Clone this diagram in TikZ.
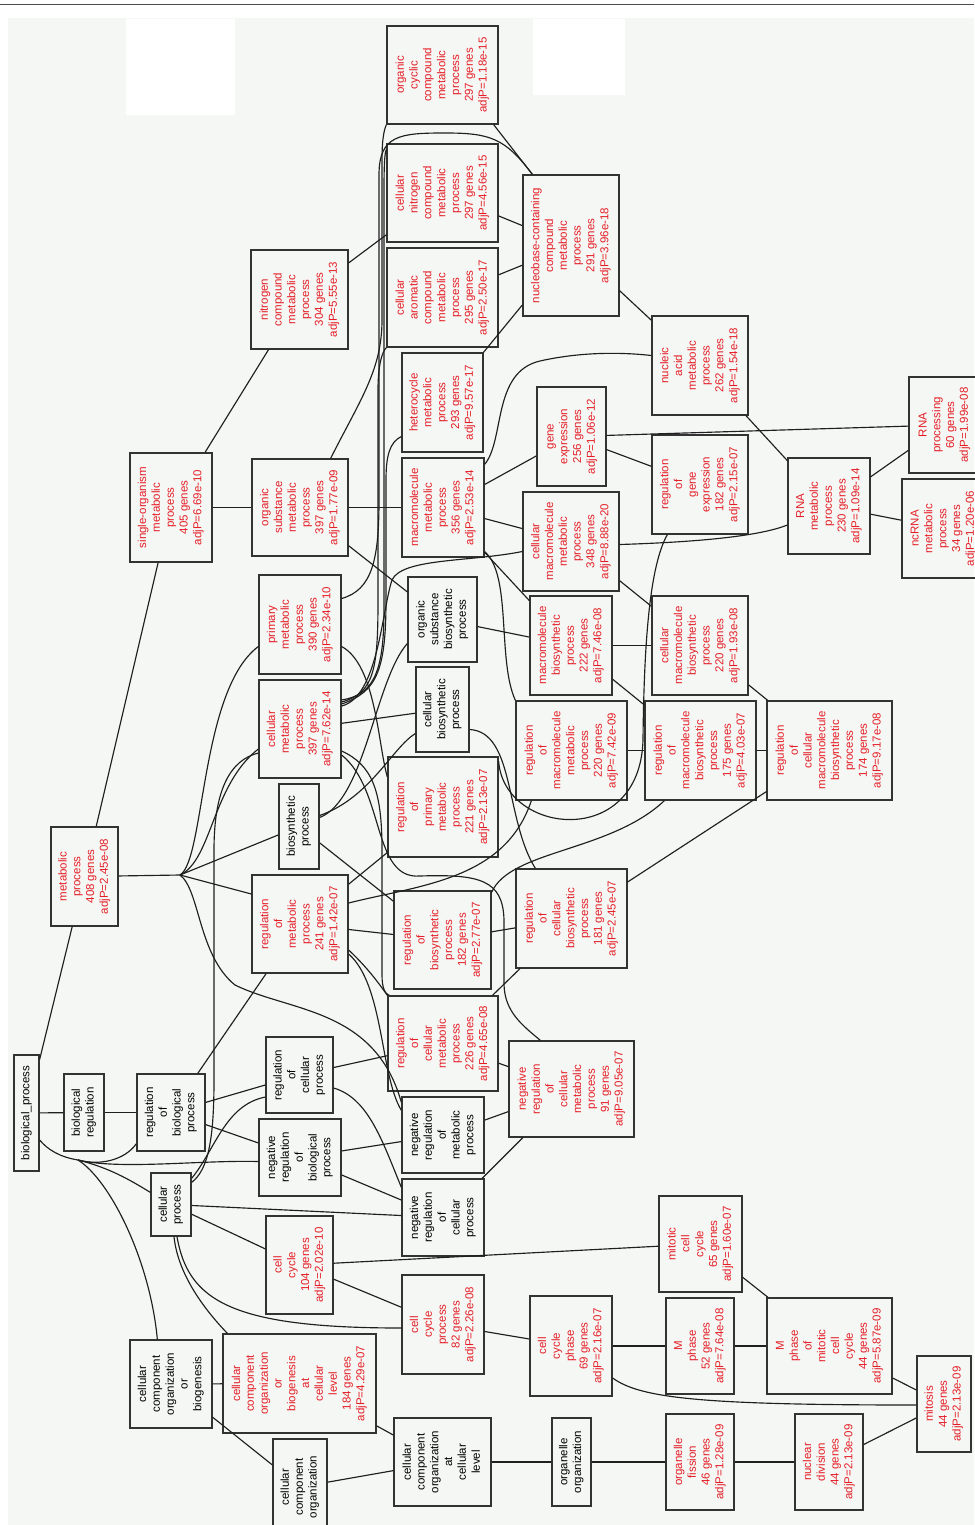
\documentclass[tikz,border=0pt]{standalone}
\usepackage{fontspec}
\setmainfont{Liberation Sans}
\usepackage{graphicx}
\definecolor{sigred}{RGB}{228,30,38}
\definecolor{canvasgray}{RGB}{245,247,245}
\newcommand{\golab}[1]{\rotatebox{90}{\fontsize{11.5}{13.8}\selectfont\begin{tabular}{@{}c@{}}#1\end{tabular}}}

\begin{document}
\begin{tikzpicture}[x=1pt, y=-1pt,
  term/.style={draw=black!80, line width=1.3pt, inner sep=0pt, text=sigred},
  bterm/.style={term, text=black},
  sz/.style 2 args={minimum width=#1pt, minimum height=#2pt},
  lk/.style={draw=black!88, line width=1.15pt}
]
  \useasboundingbox (0,0) rectangle (974,1525);
  \fill[white] (0,0) rectangle (974,1525);
  \fill[canvasgray] (8,18) rectangle (974,1525);
  \fill[white] (126,19) rectangle (235,115);
  \fill[white] (533,19) rectangle (625,95);
  \draw[line width=1.5pt, black!70] (0,4.5) -- (974,4.5);

  \node[term, sz={111}{98}] (occ) at (442.5,75) {\golab{organic\\cyclic\\compound\\metabolic\\process\\297 genes\\adjP=1.18e-15}};
  \node[term, sz={111}{98}] (cnc) at (442.5,193) {\golab{cellular\\nitrogen\\compound\\metabolic\\process\\297 genes\\adjP=4.56e-15}};
  \node[term, sz={111}{99}] (cac) at (442.5,297.5) {\golab{cellular\\aromatic\\compound\\metabolic\\process\\295 genes\\adjP=2.50e-17}};
  \node[term, sz={97}{99}] (ncm) at (299.5,299.5) {\golab{nitrogen\\compound\\metabolic\\process\\304 genes\\adjP=5.55e-13}};
  \node[term, sz={81}{99}] (het) at (442.5,402.5) {\golab{heterocycle\\metabolic\\process\\293 genes\\adjP=9.57e-17}};
  \node[term, sz={96}{141}] (nuc) at (571,245.5) {\golab{nucleobase-containing\\compound\\metabolic\\process\\291 genes\\adjP=3.96e-18}};
  \node[term, sz={96}{99}] (nam) at (700,365.5) {\golab{nucleic\\acid\\metabolic\\process\\262 genes\\adjP=1.54e-18}};
  \node[term, sz={82}{109}] (som) at (171,507.5) {\golab{single-organism\\metabolic\\process\\405 genes\\adjP=6.69e-10}};
  \node[term, sz={96}{97}] (osm) at (300,507.5) {\golab{organic\\substance\\metabolic\\process\\397 genes\\adjP=1.77e-09}};
  \node[term, sz={82}{99}] (mmp) at (443,507.5) {\golab{macromolecule\\metabolic\\process\\356 genes\\adjP=2.53e-14}};
  \node[term, sz={82}{99}] (pmp) at (300,624.5) {\golab{primary\\metabolic\\process\\390 genes\\adjP=2.34e-10}};
  \node[term, sz={82}{98}] (cmp) at (300,729) {\golab{cellular\\metabolic\\process\\397 genes\\adjP=7.62e-14}};
  \node[bterm, sz={69}{85}] (osb) at (442.5,619.5) {\golab{organic\\substance\\biosynthetic\\process}};
  \node[bterm, sz={53}{85}] (cbp) at (442.5,709.5) {\golab{cellular\\biosynthetic\\process}};
  \node[term, sz={69}{99}] (gex) at (571.5,436.5) {\golab{gene\\expression\\256 genes\\adjP=1.06e-12}};
  \node[term, sz={96}{99}] (rge) at (700,484.5) {\golab{regulation\\of\\gene\\expression\\182 genes\\adjP=2.15e-07}};
  \node[term, sz={82}{96}] (rmp) at (829,506) {\golab{RNA\\metabolic\\process\\230 genes\\adjP=1.09e-14}};
  \node[term, sz={71}{96}] (rnp) at (944.5,425) {\golab{RNA\\processing\\60 genes\\adjP=1.99e-08}};
  \node[term, sz={83}{99}] (ncr) at (943.5,528.5) {\golab{ncRNA\\metabolic\\process\\34 genes\\adjP=1.20e-06}};
  \node[term, sz={96}{99}] (cmm) at (571,541.5) {\golab{cellular\\macromolecule\\metabolic\\process\\348 genes\\adjP=8.88e-20}};
  \node[term, sz={82}{99}] (mbp) at (571,645.5) {\golab{macromolecule\\biosynthetic\\process\\222 genes\\adjP=7.46e-08}};
  \node[term, sz={96}{99}] (cmb) at (700,645.5) {\golab{cellular\\macromolecule\\biosynthetic\\process\\220 genes\\adjP=1.93e-08}};
  \node[term, sz={111}{99}] (rmm) at (571.5,750.5) {\golab{regulation\\of\\macromolecule\\metabolic\\process\\220 genes\\adjP=7.42e-09}};
  \node[term, sz={111}{99}] (rmb) at (700.5,750.5) {\golab{regulation\\of\\macromolecule\\biosynthetic\\process\\175 genes\\adjP=4.03e-07}};
  \node[term, sz={125}{99}] (rcmb) at (829.5,750.5) {\golab{regulation\\of\\cellular\\macromolecule\\biosynthetic\\process\\174 genes\\adjP=9.17e-08}};
  \node[term, sz={67}{99}] (met) at (84.5,876.5) {\golab{metabolic\\process\\408 genes\\adjP=2.45e-08}};
  \node[bterm, sz={40}{85}] (bsp) at (299,826.5) {\golab{biosynthetic\\process}};
  \node[term, sz={96}{98}] (rmet) at (300,924) {\golab{regulation\\of\\metabolic\\process\\241 genes\\adjP=1.42e-07}};
  \node[term, sz={110}{100}] (rpm) at (443,807) {\golab{regulation\\of\\primary\\metabolic\\process\\221 genes\\adjP=2.13e-07}};
  \node[term, sz={97}{98}] (rbp) at (442.5,940) {\golab{regulation\\of\\biosynthetic\\process\\182 genes\\adjP=2.77e-07}};
  \node[term, sz={111}{99}] (rcb) at (571.5,918.5) {\golab{regulation\\of\\cellular\\biosynthetic\\process\\181 genes\\adjP=2.45e-07}};
  \node[term, sz={110}{95}] (rcm) at (443,1043.5) {\golab{regulation\\of\\cellular\\metabolic\\process\\226 genes\\adjP=4.65e-08}};
  \node[term, sz={125}{96}] (nrcm) at (571.5,1089) {\golab{negative\\regulation\\of\\cellular\\metabolic\\process\\91 genes\\adjP=9.05e-07}};
  \node[bterm, sz={25}{116}] (bp) at (26.5,1113) {\golab{biological\_process}};
  \node[bterm, sz={40}{77}] (breg) at (84,1112.5) {\golab{biological\\regulation}};
  \node[bterm, sz={68}{77}] (rbio) at (171,1112.5) {\golab{regulation\\of\\biological\\process}};
  \node[bterm, sz={67}{76}] (rcp) at (299.5,1075) {\golab{regulation\\of\\cellular\\process}};
  \node[bterm, sz={82}{77}] (nrbp) at (300,1157.5) {\golab{negative\\regulation\\of\\biological\\process}};
  \node[bterm, sz={82}{76}] (nrmp) at (443,1135) {\golab{negative\\regulation\\of\\metabolic\\process}};
  \node[bterm, sz={82}{77}] (nrcp) at (443,1217.5) {\golab{negative\\regulation\\of\\cellular\\process}};
  \node[bterm, sz={40}{63}] (cpr) at (171,1204.5) {\golab{cellular\\process}};
  \node[term, sz={67}{98}] (ccy) at (299.5,1265) {\golab{cell\\cycle\\104 genes\\adjP=2.02e-10}};
  \node[term, sz={82}{99}] (ccp) at (443,1324.5) {\golab{cell\\cycle\\process\\82 genes\\adjP=2.26e-08}};
  \node[bterm, sz={82}{88}] (ccob) at (171,1384) {\golab{cellular\\component\\organization\\or\\biogenesis}};
  \node[term, sz={153}{99}] (ccobl) at (299.5,1383.5) {\golab{cellular\\component\\organization\\or\\biogenesis\\at\\cellular\\level\\184 genes\\adjP=4.29e-07}};
  \node[bterm, sz={54}{96}] (cco) at (300,1487) {\golab{cellular\\component\\organization}};
  \node[bterm, sz={97}{88}] (ccol) at (442.5,1462) {\golab{cellular\\component\\organization\\at\\cellular\\level}};
  \node[bterm, sz={39}{88}] (ogo) at (571.5,1462) {\golab{organelle\\organization}};
  \node[term, sz={68}{96}] (ofi) at (700,1462) {\golab{organelle\\fission\\46 genes\\adjP=1.28e-09}};
  \node[term, sz={68}{96}] (ndv) at (829,1462) {\golab{nuclear\\division\\44 genes\\adjP=2.13e-09}};
  \node[term, sz={54}{96}] (mit) at (944,1404) {\golab{mitosis\\44 genes\\adjP=2.13e-09}};
  \node[term, sz={82}{100}] (ccph) at (571,1346) {\golab{cell\\cycle\\phase\\69 genes\\adjP=2.16e-07}};
  \node[term, sz={68}{96}] (mph) at (700,1346) {\golab{M\\phase\\52 genes\\adjP=7.64e-08}};
  \node[term, sz={125}{96}] (mpmc) at (829.5,1346) {\golab{M\\phase\\of\\mitotic\\cell\\cycle\\44 genes\\adjP=5.87e-09}};
  \node[term, sz={83}{96}] (mcc) at (700.5,1244) {\golab{mitotic\\cell\\cycle\\65 genes\\adjP=1.60e-07}};

  \coordinate (fan) at (180,875);
  \coordinate (bpfan) at (78,1160);

  \draw[lk] (bp) -- (breg);
  \draw[lk] (breg) -- (rbio);
  \draw[lk] (bp) -- (met);
  \draw[lk] (met) -- (som);
  \draw[lk] (som) -- (ncm);
  \draw[lk] (som) -- (osm);
  \draw[lk] (osm) -- (mmp);
  \draw[lk] (osm) -- (osb);
  \draw[lk] (ncm) -- (cnc);
  \draw[lk] ([xshift=-5pt]occ.south east) -- ([xshift=10pt]nuc.north west);
  \draw[lk] (cnc) -- (nuc);
  \draw[lk] (cac) -- (nuc);
  \draw[lk] (het) -- (nuc);
  \draw[lk] (nuc) -- (nam);
  \draw[lk] (nam) -- (rmp);
  \draw[lk] (mmp) -- (gex);
  \draw[lk] (mmp) -- (cmm);
  \draw[lk] (mmp) -- (mbp);
  \draw[lk] (gex) -- (rge);
  \draw[lk] (gex) -- (rnp);
  \draw[lk] (rmp) -- (rnp);
  \draw[lk] (rmp) -- (ncr);
  \draw[lk] (cmm) -- (cmb);
  \draw[lk] (osb) -- (mbp);
  \draw[lk] (mbp) -- (cmb);
  \draw[lk] (mbp) -- (rmb);
  \draw[lk] (cmb) -- (rcmb);
  \draw[lk] (rmm) -- (rmb);
  \draw[lk] (rmb) -- (rcmb);
  \draw[lk] (rcb) -- (rcmb);
  \draw[lk] (cmp) -- (cbp);
  \draw[lk] (bsp) -- (rbp);
  \draw[lk] (rmet) -- (rpm);
  \draw[lk] (rmet) -- (rbp);
  \draw[lk] (rbp) -- (rcb);
  \draw[lk] (rcm) -- (rcb);
  \draw[lk] (rcm) -- (nrcm);
  \draw[lk] (nrmp) -- (nrcm);
  \draw[lk] (nrcp) -- (nrcm);
  \draw[lk] (rbio) -- (rmet);
  \draw[lk] (rbio) -- (rcp);
  \draw[lk] (rbio) -- (nrbp);
  \draw[lk] (rcp) -- (rcm);
  \draw[lk] (nrbp) -- (nrmp);
  \draw[lk] (nrbp) -- (nrcp);
  \draw[lk] (cpr) -- (nrcp);
  \draw[lk] (cpr) -- (ccy);
  \draw[lk] (ccy) -- (mcc);
  \draw[lk] (ccy) -- (ccp);
  \draw[lk] (ccp) -- (ccph);
  \draw[lk] (ccph) -- (mph);
  \draw[lk] (mph) -- (mpmc);
  \draw[lk] (mcc) -- (mpmc);
  \draw[lk] (mpmc) -- (mit);
  \draw[lk] (ndv) -- (mit);
  \draw[lk] (ofi) -- (ndv);
  \draw[lk] (ogo) -- (ofi);
  \draw[lk] (ccol) -- (ogo);
  \draw[lk] (ccobl) -- (ccol);
  \draw[lk] (cco) -- (ccol);
  \draw[lk] (ccob) -- (ccobl);
  \draw[lk] (ccob) -- (cco);

  \draw[lk] (met) -- (fan);
  \draw[lk] (fan) -- (bsp);
  \draw[lk] (fan) -- ([yshift=30pt]rmet.west);
  \draw[lk] (fan) .. controls (205,860) and (200,690) .. ([yshift=-22pt]pmp.west);
  \draw[lk] (fan) .. controls (212,860) and (212,785) .. ([yshift=-20pt]cmp.west);
  \draw[lk] (fan) .. controls (200,890) and (198,955) .. (235,985) .. controls (290,1012) and (375,1008) .. ([yshift=-6pt]nrmp.north west);

  \draw[lk] ([yshift=-27pt]bp.east) .. controls (48,1150) and (60,1157) .. (bpfan);
  \draw[lk] (bpfan) .. controls (100,1166) and (125,1160) .. ([yshift=8pt]rbio.south west);
  \draw[lk] (bpfan) .. controls (120,1170) and (200,1160) .. ([yshift=-4pt]nrbp.west);
  \draw[lk] (bpfan) .. controls (110,1168) and (130,1180) .. ([yshift=-20pt]cpr.north west);
  \draw[lk] (bpfan) .. controls (110,1180) and (150,1260) .. ([xshift=28pt]ccob.north west);

  \draw[lk] ([yshift=-10pt]cpr.north east) .. controls (208,1170) and (214,1140) .. (214,1080) -- (214,850) .. controls (214,790) and (230,760) .. ([yshift=-24pt]cmp.west);
  \draw[lk] ([yshift=-6pt]cpr.north east) .. controls (215,1150) and (225,1105) .. ([yshift=-22pt]rcp.west);
  \draw[lk] ([xshift=6pt]cpr.south) .. controls (188,1300) and (230,1328) .. ([yshift=-3.5pt]ccp.west);
  \draw[lk] ([xshift=3pt]cpr.south) .. controls (178,1275) and (205,1310) .. ([xshift=5pt]ccobl.north west);
  \draw[lk] ([yshift=-32pt]ccph.east) .. controls (640,1398) and (700,1405) .. ([yshift=-1pt]mit.west);

  \draw[lk] ([yshift=26pt]pmp.east) .. controls (372,590) and (379,560) .. (379,500) -- (379,175) .. controls (379,135) and (400,133) .. (445,133) .. controls (490,133) and (505,138) .. ([xshift=10pt]nuc.north west);
  \draw[lk] ([xshift=-18pt]osm.north east) .. controls (360,400) and (382,370) .. (382,320) -- (382,160) .. controls (382,135) and (385,128) .. (occ.south west);
  \draw[lk] ([yshift=29pt]cmp.east) .. controls (372,695) and (384,675) .. (384,610) -- (384,190) .. controls (384,160) and (385,152) .. ([yshift=-6pt]cnc.north west);
  \draw[lk] ([yshift=27pt]cmp.east) .. controls (374,693) and (378,670) .. (378,600) -- (378,390) .. controls (378,365) and (382,352) .. (cac.south west);
  \draw[lk] ([yshift=25pt]cmp.east) .. controls (376,692) and (386,672) .. (386,600) -- (386,480) .. controls (386,455) and (390,442) .. ([yshift=-34pt]het.west);
  \draw[lk] ([yshift=23pt]cmp.east) .. controls (378,697) and (382,610) .. (392,580) .. controls (402,558) and (470,562) .. ([yshift=-10pt]cmm.west);
  \draw[lk] ([yshift=-22pt]pmp.east) .. controls (376,665) and (378,745) .. ([yshift=30pt]rpm.west);
  \draw[lk] ([yshift=-22pt]cmp.east) .. controls (372,765) and (382,790) .. (382,850) -- (382,975) .. controls (382,988) and (385,994) .. ([xshift=2pt]rcm.north west);
  \draw[lk] ([yshift=-26pt]cmp.east) .. controls (385,790) and (372,880) .. (420,876) .. controls (480,874) and (503,880) .. (504,920) -- (504,985) .. controls (505,1012) and (522,1025) .. ([xshift=32pt]nrcm.north west);
  \draw[lk] ([yshift=9pt]bsp.east) .. controls (365,800) and (375,680) .. ([yshift=-24pt]osb.west);
  \draw[lk] ([yshift=11pt]bsp.east) .. controls (370,798) and (392,748) .. ([yshift=-24pt]cbp.west);
  \draw[lk] ([yshift=-20pt]cbp.east) .. controls (515,732) and (505,820) .. ([xshift=20pt]rcb.north west);
  \draw[lk] ([yshift=-5pt]rpm.north east) .. controls (504,835) and (640,850) .. (643,740) .. controls (644,640) and (650,565) .. ([xshift=16pt]rge.south west);
  \draw[lk] ([yshift=-7pt]mmp.north east) .. controls (505,440) and (492,372) .. (540,361) .. controls (580,352) and (620,352) .. ([yshift=10pt]nam.west);
  \draw[lk] ([yshift=6pt]mmp.south east) .. controls (512,575) and (497,660) .. (rmm.north west);
  \draw[lk] ([yshift=-3pt]cmm.east) .. controls (700,542) and (760,536) .. ([yshift=-19pt]rmp.west);
  \draw[lk] ([yshift=21pt]rmet.east) .. controls (420,885) and (505,880) .. ([xshift=16pt]rmm.south west);
  \draw[lk] ([yshift=-2pt]rbp.north east) .. controls (510,850) and (610,852) .. ([xshift=20pt]rmb.south west);
  \draw[lk] ([yshift=-26pt]rmet.east) .. controls (368,968) and (380,985) .. (rcm.north west);
  \draw[lk] ([yshift=-30pt]rmet.east) .. controls (384,985) and (380,1075) .. ([yshift=-14pt]nrmp.north west);
  \draw[lk] ([yshift=-13pt]rcp.east) .. controls (368,1098) and (382,1140) .. ([yshift=-9pt]nrcp.north west);
\end{tikzpicture}
\end{document}
